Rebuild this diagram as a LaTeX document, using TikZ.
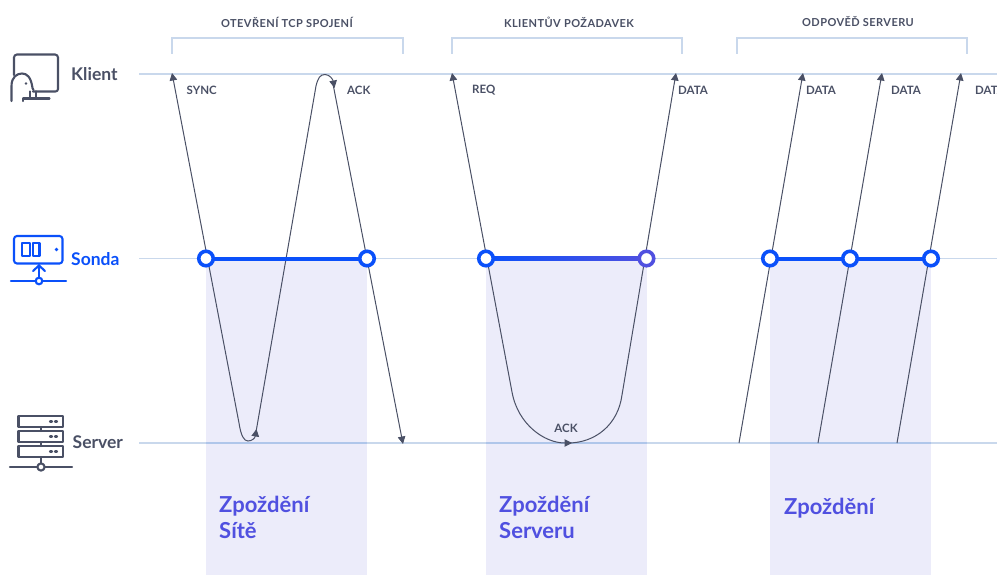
\documentclass[tikz,border=0pt]{standalone}
\usepackage{fontspec}
\setmainfont{Lato}
\newfontface\capsface[LetterSpace=4]{Lato Bold}
\usetikzlibrary{arrows.meta}
\definecolor{ink}{HTML}{4A5065}
\definecolor{guide}{HTML}{C9D8EC}
\definecolor{guidedark}{HTML}{AFC6EA}
\definecolor{bandfill}{HTML}{ECECFA}
\definecolor{probe}{HTML}{0A50FA}
\definecolor{violet}{HTML}{5050E0}
\tikzset{
  x=1pt,y=-1pt,
  guideline/.style={guide,line width=1.2pt},
  bracket/.style={guide,line width=1.2pt},
  flow/.style={ink,line width=1pt},
  tiphead/.style={-{Triangle[length=7.5pt,width=7.5pt]}},
  caption/.style={font=\capsface\fontsize{11}{12}\selectfont,text=ink,inner sep=0pt},
  msg/.style={font=\bfseries\fontsize{11.5}{12}\selectfont,text=ink,inner sep=0pt,anchor=west},
  actor/.style={font=\bfseries\fontsize{17.5}{18}\selectfont,text=ink,inner sep=0pt,anchor=west},
  delay/.style={font=\bfseries\fontsize{22}{26}\selectfont,text=violet,inner sep=0pt,anchor=west,align=left},
  ring/.style={circle,draw=probe,fill=white,line width=3.6pt,minimum size=14.5pt,inner sep=0pt},
  iconk/.style={ink,line width=2.1pt,line cap=round,line join=round},
  iconb/.style={probe,line width=2.1pt,line cap=round,line join=round},
}
\begin{document}
\begin{tikzpicture}
\useasboundingbox (0,0) rectangle (997,575);
\clip (0,0) rectangle (997,575);
% shaded bands
\fill[bandfill] (206,258) rectangle (367,575);
\fill[bandfill] (486,258) rectangle (647,575);
\fill[bandfill] (770,258) rectangle (931,575);
% guides
\draw[guideline] (139,74) -- (997,74);
\draw[guideline] (139,258.5) -- (997,258.5);
\draw[guideline] (139,443) -- (997,443);
\draw[guidedark,line width=1.2pt] (206,443) -- (367,443);
\draw[guidedark,line width=1.2pt] (486,443) -- (647,443);
\draw[guidedark,line width=1.2pt] (770,443) -- (931,443);
% brackets
\draw[bracket] (172,54) |- (403,38) -- (403,54);
\draw[bracket] (452,54) |- (682,38) -- (682,54);
\draw[bracket] (737,54) |- (967,38) -- (967,54);
\node[caption] (c1) at (287,22) {OTEVŘENÍ TCP SPOJENÍ};
\node[caption] (c2) at (569,22) {KLIENTŮV POŽADAVEK};
\node[caption] (c3) at (858,22) {ODPOVĚĎ SERVERU};
% anchors
\coordinate (syncTop) at (172,73);
\coordinate (dn1) at (403,444);
\coordinate (reqTop) at (452,73);
\coordinate (dataTop) at (676,73);
\coordinate (d1b) at (739,443);
\coordinate (d1t) at (803,73);
\coordinate (d2b) at (818,443);
\coordinate (d2t) at (882,73);
\coordinate (d3b) at (897,443);
\coordinate (d3t) at (961,73);
\coordinate (ackSrv) at (572,443);
\coordinate (bumpTip) at (256.5,429);
\coordinate (ackTip) at (334.5,88);
% connectors
\draw[flow,tiphead] (239,423) -- (syncTop);
\draw[flow,tiphead] (239,423) .. controls (241,436) and (244,441) .. (248,441) .. controls (252,441) and (255,438) .. (bumpTip);
\draw[flow,tiphead] (256,432) -- (316,86) .. controls (318,78) and (320,74.5) .. (325,74.5) .. controls (330,74.5) and (333,80) .. (ackTip);
\draw[flow,tiphead] (333,84) -- (dn1);
\draw[flow,tiphead] (512,392) -- (reqTop);
\draw[flow,tiphead] (512,392) .. controls (518,425) and (545,443) .. (ackSrv);
\draw[flow] (568,443) .. controls (595,443) and (618,425) .. (622,395);
\draw[flow,tiphead] (622,395) -- (dataTop);
\draw[flow,tiphead] (d1b) -- (d1t);
\draw[flow,tiphead] (d2b) -- (d2t);
\draw[flow,tiphead] (d3b) -- (d3t);
% messages
\node[msg] (m1) at (186.5,90) {SYNC};
\node[msg] (m2) at (347,90) {ACK};
\node[msg] (m3) at (472,90) {REQ};
\node[msg] (m4) at (678,90) {DATA};
\node[msg] (m5) at (806,90) {DATA};
\node[msg] (m6) at (891,90) {DATA};
\node[msg] (m7) at (975,90) {DATA};
\node[msg,anchor=center] (m8) at (566,428) {ACK};
% probe bars
\draw[probe,line width=4pt] (206,258.5) -- (367,258.5);
\fill[left color=probe,right color=violet] (486,256.5) rectangle (647,260.5);
\draw[probe,line width=4pt] (770,258.5) -- (931,258.5);
\node[ring] (r1) at (206,258.5) {};
\node[ring] (r2) at (367,258.5) {};
\node[ring] (r3) at (486,258.5) {};
\node[ring,draw=violet] (r4) at (646.5,258.5) {};
\node[ring] (r5) at (770,258.5) {};
\node[ring] (r6) at (850,258.5) {};
\node[ring] (r7) at (931,258.5) {};
% actor labels
\node[actor] (klient) at (71,74) {Klient};
\node[actor,text=probe] (sonda) at (71,259.5) {Sonda};
\node[actor] (server) at (72.5,442) {Server};
% delay labels
\node[delay] (z1) at (219,517) {Zpoždění\\Sítě};
\node[delay] (z2) at (499,517) {Zpoždění\\Serveru};
\node[delay] (z3) at (784,508) {Zpoždění};
% client icon
\draw[iconk] (14,75) -- (14,57.5) arc[start angle=180,end angle=270,radius=3] -- (55,54.5) arc[start angle=270,end angle=360,radius=3] -- (58,89) arc[start angle=0,end angle=90,radius=2.5] -- (33,91.5);
\draw[iconk] (11.5,101) -- (11.5,86) .. controls (11.5,77) and (17,73.5) .. (22,73.5) .. controls (27,73.5) and (31,77) .. (32.5,88) -- (33.5,90);
\draw[iconk] (30,91.5) -- (30,97.5) (36,91.5) -- (36,97.5);
\draw[iconk] (23,101) -- (23,98.5) -- (49.5,98.5);
\fill[ink] (26,83.5) circle (1.4pt);
% probe icon
\draw[iconb,rounded corners=3pt] (14,236) rectangle (62.5,263.5);
\draw[iconb] (22,243) rectangle (30,256);
\draw[iconb] (33,243) rectangle (39.5,256);
\fill[probe] (56.5,249.5) circle (1.9pt);
\draw[iconb] (39,279) -- (39,265);
\draw[iconb] (33,271) -- (39,265.5) -- (45,271);
\draw[iconb] (11,281) -- (66,281);
\draw[iconb,fill=white] (39,281) circle (3.3pt);
% server icon
\draw[iconk] (18.5,416) rectangle (63,427);
\draw[iconk] (18.5,431) rectangle (63,442);
\draw[iconk] (18.5,446) rectangle (63,457);
\draw[iconk] (41,427) -- (41,431) (41,442) -- (41,446) (41,457) -- (41,463);
\draw[iconk] (50,421.5) -- (52,421.5) (55,421.5) -- (57,421.5);
\draw[iconk] (50,436.5) -- (52,436.5) (55,436.5) -- (57,436.5);
\draw[iconk] (50,451.5) -- (52,451.5) (55,451.5) -- (57,451.5);
\draw[iconk] (10,467) -- (72,467);
\draw[iconk,fill=white] (41,467) circle (3.6pt);
\end{tikzpicture}
\end{document}
